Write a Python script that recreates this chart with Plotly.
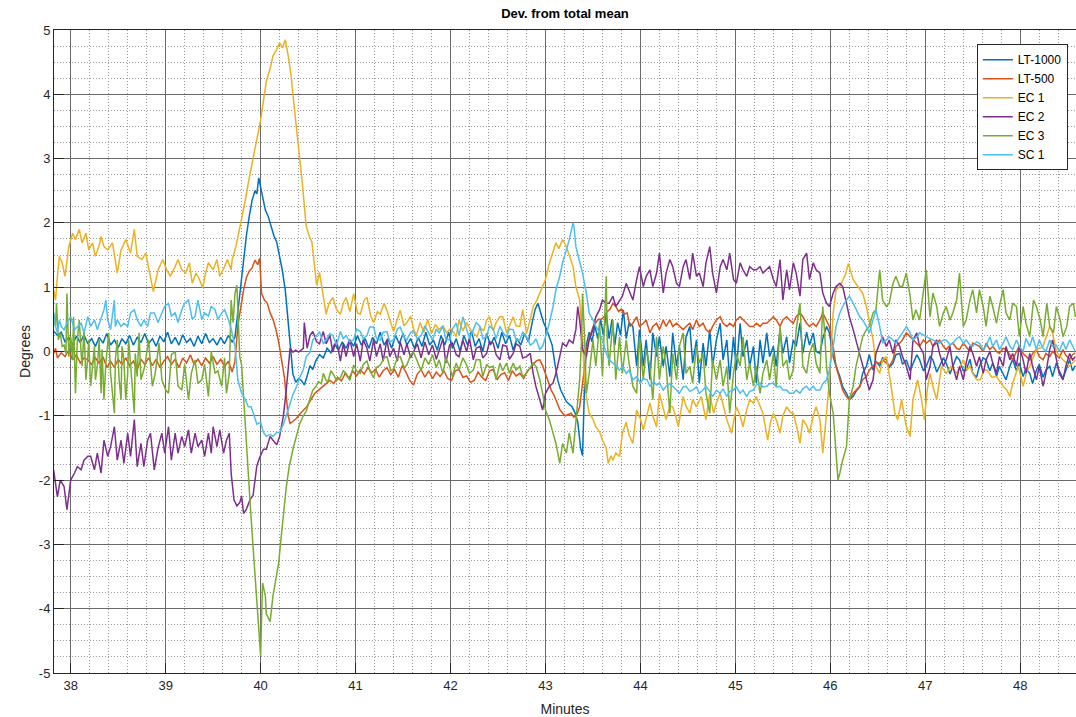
import plotly.graph_objects as go

# ---- data: (minutes, degrees) ----
lt1000 = [(37.82,0.32),(37.86,0.25),(37.90,0.30),(37.94,0.15),(37.98,0.22),(38.02,0.10),(38.06,0.24),(38.10,0.14),(38.14,0.26),(38.18,0.12),(38.22,0.20),(38.26,0.08),(38.30,0.22),(38.34,0.13),(38.38,0.28),(38.42,0.10),(38.46,0.18),(38.50,0.06),(38.54,0.20),(38.58,0.12),(38.62,0.25),(38.66,0.10),(38.70,0.22),(38.74,0.14),(38.78,0.28),(38.82,0.12),(38.86,0.20),(38.90,0.08),(38.94,0.24),(38.98,0.15),(39.02,0.30),(39.06,0.12),(39.10,0.22),(39.14,0.10),(39.18,0.26),(39.22,0.14),(39.26,0.20),(39.30,0.08),(39.34,0.24),(39.38,0.12),(39.42,0.28),(39.46,0.14),(39.50,0.20),(39.54,0.10),(39.58,0.22),(39.62,0.12),(39.66,0.25),(39.70,0.15),(39.73,0.22),
(39.76,0.6),(39.79,1.0),(39.82,1.45),(39.85,1.8),(39.88,2.1),(39.91,2.35),(39.94,2.5),(39.96,2.45),(39.98,2.7),(40.00,2.55),(40.02,2.4),(40.05,2.2),(40.08,2.1),(40.11,1.95),(40.14,1.8),(40.17,1.7),(40.20,1.5),(40.23,1.25),(40.26,0.95),(40.28,0.6),(40.30,0.25),(40.32,-0.1),(40.34,-0.35),(40.37,-0.48),(40.40,-0.42),(40.43,-0.45),(40.46,-0.52),(40.49,-0.38),(40.52,-0.22),(40.55,-0.28),(40.58,-0.15),(40.62,-0.05),(40.66,-0.1),(40.70,0.05),(40.74,-0.02),(40.78,0.12),(40.82,0.02),(40.86,0.15),(40.90,0.05),(40.94,0.18),(40.98,0.08),(41.02,0.25),(41.06,0.1),(41.10,0.2),(41.14,0.05),(41.18,0.22),(41.22,0.12),(41.26,0.3),(41.30,0.1),(41.34,0.2),(41.38,0.05),(41.42,0.25),(41.46,0.12),(41.50,0.28),(41.54,0.1),(41.58,0.2),(41.62,0.05),(41.66,0.22),(41.70,0.08),(41.74,0.3),(41.78,0.1),(41.82,0.18),(41.86,0.02),(41.90,0.25),(41.94,0.1),(41.98,0.3),(42.02,0.05),(42.06,0.2),(42.10,0.0),(42.14,0.25),(42.18,0.1),(42.22,0.32),(42.26,0.08),(42.30,0.2),(42.34,0.0),(42.38,0.28),(42.42,0.1),(42.46,0.22),(42.50,0.05),(42.54,0.3),(42.58,0.12),(42.62,0.25),(42.66,0.02),(42.70,0.2),(42.74,0.1),(42.78,0.28),(42.82,0.15),(42.86,0.45),(42.89,0.65),(42.92,0.75),(42.95,0.6),(42.98,0.45),(43.01,0.35),(43.04,0.22),(43.07,0.1),(43.10,-0.2),(43.13,-0.45),(43.16,-0.6),(43.19,-0.7),(43.22,-0.78),(43.25,-0.82),(43.28,-0.86),(43.31,-0.95),(43.34,-1.1),(43.37,-1.5),(43.39,-1.62),(43.41,-0.6),(43.43,0.1),(43.46,0.3),(43.49,0.15),(43.52,0.4),(43.55,0.2),(43.58,0.5),(43.61,0.25),(43.64,0.6),(43.67,0.2),(43.70,0.5),(43.73,0.1),(43.76,0.45),(43.79,0.25),(43.82,0.65),(43.85,0.2),(43.88,0.45),
(43.92,0.39),(43.96,-0.23),(43.99,0.34),(44.03,-0.23),(44.06,0.18),(44.10,-0.44),(44.13,0.29),(44.17,-0.08),(44.20,0.23),(44.24,-0.23),(44.27,0.08),(44.31,-0.39),(44.34,0.29),(44.38,-0.23),(44.41,0.08),(44.45,-0.44),(44.48,0.23),(44.52,0.39),(44.55,-0.18),(44.59,0.18),(44.62,-0.49),(44.66,0.13),(44.69,-0.23),(44.73,0.34),(44.76,-0.23),(44.80,0.18),(44.84,0.44),(44.87,-0.13),(44.91,0.18),(44.94,-0.44),(44.98,0.23),(45.01,-0.29),(45.05,0.44),(45.08,-0.08),(45.12,0.18),(45.15,-0.23),(45.19,0.08),(45.22,-0.49),(45.26,0.18),(45.29,-0.18),(45.33,0.29),(45.36,-0.08),(45.40,0.08),(45.43,-0.23),(45.47,0.34),(45.50,-0.03),(45.54,0.23),(45.57,-0.18),(45.61,0.18),(45.64,0.08),(45.68,0.44),(45.71,-0.03),(45.75,0.3),(45.78,0.1),(45.82,0.29),(45.85,0.0),(45.89,-0.03),(45.92,0.2),(45.96,0.39),(45.99,0.29),(46.03,-0.08),(46.06,-0.23),(46.10,-0.39),(46.13,-0.55),(46.17,-0.65),(46.20,-0.75),(46.24,-0.70),(46.27,-0.62),(46.31,-0.55),(46.34,-0.34),(46.38,-0.23),(46.41,-0.05),(46.45,-0.29),(46.48,-0.15),(46.52,-0.23),(46.55,-0.1),(46.59,-0.13),(46.62,-0.25),(46.66,-0.18),(46.69,-0.05),(46.73,-0.03),(46.76,-0.2),(46.80,-0.13),(46.84,-0.3),(46.87,-0.18),(46.91,-0.05),(46.94,-0.13),(46.98,-0.3),(47.01,-0.23),(47.05,-0.08),(47.08,-0.13),(47.12,-0.32),(47.15,-0.23),(47.19,-0.1),(47.22,-0.18),(47.26,-0.35),(47.29,-0.23),(47.33,-0.08),(47.36,-0.13),(47.40,-0.3),(47.43,-0.29),(47.47,-0.12),(47.50,-0.34),(47.54,-0.4),(47.57,-0.23),(47.61,-0.1),(47.64,-0.13),(47.68,-0.3),(47.71,-0.18),(47.75,-0.39),(47.78,-0.23),(47.82,-0.34),(47.85,-0.44),(47.89,-0.23),(47.92,-0.12),(47.96,-0.3),(47.99,-0.18),(48.03,-0.39),(48.06,-0.27),(48.10,-0.34),(48.13,-0.5),(48.17,-0.29),(48.20,-0.2),(48.24,-0.4),(48.27,-0.29),(48.31,-0.23),(48.34,-0.39),(48.38,-0.18),(48.41,-0.3),(48.45,-0.42),(48.48,-0.29),(48.52,-0.13),(48.55,-0.3),(48.58,-0.22)]

lt500 = [(37.82,-0.03),(37.84,0.05),(37.86,-0.1),(37.90,-0.02),(37.94,-0.08),(37.98,0.02),(38.02,-0.13),(38.06,-0.05),(38.10,-0.18),(38.14,-0.1),(38.18,-0.13),(38.22,-0.2),(38.26,-0.1),(38.30,-0.18),(38.34,-0.08),(38.38,-0.25),(38.42,-0.15),(38.46,-0.25),(38.50,-0.12),(38.54,-0.2),(38.58,-0.1),(38.62,-0.22),(38.66,-0.15),(38.70,-0.28),(38.74,-0.12),(38.78,-0.2),(38.82,-0.1),(38.86,-0.22),(38.90,-0.12),(38.94,-0.25),(38.98,-0.15),(39.02,-0.08),(39.06,-0.2),(39.10,-0.12),(39.14,-0.25),(39.18,-0.1),(39.22,-0.18),(39.26,-0.05),(39.30,-0.2),(39.34,-0.12),(39.38,-0.22),(39.42,-0.1),(39.46,-0.18),(39.50,-0.08),(39.54,-0.2),(39.58,-0.12),(39.62,-0.24),(39.66,-0.15),(39.70,-0.32),(39.73,-0.15),
(39.76,0.4),(39.79,0.7),(39.82,0.95),(39.85,1.15),(39.88,1.25),(39.91,1.3),(39.94,1.42),(39.97,1.35),(39.99,1.45),(40.01,0.9),(40.04,0.8),(40.07,0.75),(40.10,0.6),(40.13,0.5),(40.16,0.35),(40.19,0.15),(40.22,-0.1),(40.25,-0.4),(40.27,-0.7),(40.29,-1.0),(40.31,-1.12),(40.34,-1.08),(40.37,-1.05),(40.41,-0.98),(40.45,-0.92),(40.49,-0.85),(40.53,-0.75),(40.57,-0.65),(40.61,-0.6),(40.65,-0.55),(40.69,-0.5),(40.73,-0.45),(40.77,-0.5),(40.81,-0.4),(40.85,-0.46),(40.89,-0.34),(40.93,-0.42),(40.97,-0.3),(41.01,-0.38),(41.05,-0.28),(41.09,-0.35),(41.13,-0.25),(41.17,-0.33),(41.21,-0.28),(41.25,-0.4),(41.29,-0.3),(41.33,-0.25),(41.37,-0.36),(41.41,-0.28),(41.45,-0.4),(41.49,-0.22),(41.53,-0.32),(41.57,-0.45),(41.61,-0.52),(41.65,-0.35),(41.69,-0.28),(41.73,-0.4),(41.77,-0.3),(41.81,-0.42),(41.85,-0.32),(41.89,-0.39),(41.93,-0.3),(41.97,-0.42),(42.01,-0.45),(42.05,-0.3),(42.09,-0.28),(42.13,-0.4),(42.17,-0.38),(42.21,-0.48),(42.25,-0.45),(42.29,-0.32),(42.33,-0.4),(42.37,-0.45),(42.41,-0.3),(42.45,-0.28),(42.49,-0.44),(42.53,-0.36),(42.57,-0.33),(42.61,-0.45),(42.65,-0.3),(42.69,-0.38),(42.73,-0.34),(42.77,-0.42),(42.81,-0.3),(42.85,-0.25),(42.88,-0.18),(42.91,-0.14),(42.94,-0.13),(42.97,-0.22),(43.00,-0.34),(43.03,-0.45),(43.06,-0.6),(43.09,-0.68),(43.12,-0.78),(43.15,-0.9),(43.18,-0.96),(43.21,-1.0),(43.24,-0.98),(43.27,-0.96),(43.30,-1.02),(43.33,-0.98),(43.36,-0.86),(43.38,-0.6),(43.41,-0.2),(43.44,0.1),(43.47,0.25),(43.50,0.38),(43.53,0.45),(43.56,0.5),(43.59,0.5),(43.62,0.55),(43.65,0.62),(43.68,0.66),(43.71,0.75),(43.74,0.7),(43.77,0.62),(43.80,0.66),(43.83,0.58),(43.86,0.6),(43.89,0.39),(43.92,0.44),(43.96,0.54),(43.99,0.39),(44.03,0.44),(44.06,0.49),(44.10,0.29),(44.13,0.39),(44.17,0.44),(44.20,0.34),(44.24,0.49),(44.27,0.39),(44.31,0.49),(44.34,0.39),(44.38,0.44),(44.41,0.39),(44.45,0.34),(44.48,0.39),(44.52,0.44),(44.55,0.34),(44.59,0.49),(44.62,0.39),(44.66,0.44),(44.69,0.34),(44.73,0.29),(44.76,0.39),(44.80,0.49),(44.84,0.54),(44.87,0.44),(44.91,0.39),(44.94,0.44),(44.98,0.39),(45.01,0.49),(45.05,0.54),(45.08,0.49),(45.12,0.44),(45.15,0.39),(45.19,0.39),(45.22,0.44),(45.26,0.39),(45.29,0.44),(45.33,0.44),(45.36,0.49),(45.40,0.54),(45.43,0.49),(45.47,0.39),(45.50,0.49),(45.54,0.54),(45.57,0.49),(45.61,0.44),(45.64,0.54),(45.68,0.6),(45.71,0.54),(45.75,0.44),(45.78,0.39),(45.82,0.44),(45.85,0.39),(45.89,0.49),(45.92,0.6),(45.96,0.49),(45.99,0.39),(46.03,0.08),(46.06,-0.23),(46.10,-0.44),(46.13,-0.6),(46.17,-0.7),(46.20,-0.75),(46.24,-0.65),(46.27,-0.6),(46.31,-0.54),(46.34,-0.44),(46.38,-0.39),(46.41,-0.29),(46.45,-0.23),(46.48,-0.18),(46.52,-0.18),(46.55,-0.13),(46.59,-0.18),(46.62,-0.23),(46.66,-0.13),(46.69,0.08),(46.73,0.13),(46.76,0.18),(46.80,0.29),(46.84,0.23),(46.87,0.18),(46.91,0.13),(46.94,0.08),(46.98,0.18),(47.01,0.13),(47.05,0.18),(47.08,0.08),(47.12,0.13),(47.15,0.18),(47.19,0.08),(47.22,0.03),(47.26,0.1),(47.29,0.13),(47.33,0.05),(47.36,0.03),(47.40,0.13),(47.43,0.08),(47.47,0.0),(47.50,0.13),(47.54,0.1),(47.57,0.08),(47.61,0.0),(47.64,0.13),(47.68,0.03),(47.71,0.08),(47.75,0.0),(47.78,-0.03),(47.82,0.05),(47.85,0.03),(47.89,-0.05),(47.92,-0.13),(47.96,0.0),(47.99,0.08),(48.03,-0.03),(48.06,-0.08),(48.10,-0.13),(48.13,-0.03),(48.17,0.03),(48.20,-0.08),(48.24,-0.13),(48.27,-0.03),(48.31,-0.08),(48.34,0.0),(48.38,-0.05),(48.41,-0.1),(48.45,0.03),(48.48,-0.06),(48.52,-0.12),(48.55,-0.05),(48.58,-0.02)]

ec1 = [(37.82,0.96),(37.84,0.8),(37.86,1.17),(37.88,1.48),(37.91,1.38),(37.94,1.17),(37.96,1.4),(37.98,1.63),(38.02,1.84),(38.05,1.74),(38.09,1.9),(38.12,1.69),(38.16,1.84),(38.19,1.58),(38.23,1.69),(38.26,1.48),(38.30,1.65),(38.32,1.79),(38.35,1.63),(38.39,1.58),(38.44,1.69),(38.49,1.22),(38.53,1.58),(38.58,1.74),(38.63,1.53),(38.67,1.9),(38.70,1.48),(38.75,1.43),(38.79,1.53),(38.82,1.32),(38.85,1.06),(38.87,0.93),(38.92,1.27),(38.97,1.43),(39.01,1.27),(39.05,1.17),(39.10,1.32),(39.13,1.43),(39.17,1.27),(39.21,1.22),(39.25,1.38),(39.28,1.06),(39.32,1.22),(39.35,1.14),(39.39,0.99),(39.42,1.22),(39.45,1.38),(39.50,1.27),(39.54,1.43),(39.57,1.17),(39.62,1.32),(39.65,1.43),(39.69,1.27),(39.70,1.43),(39.74,1.63),(39.77,1.84),(39.80,2.05),(39.84,2.36),(39.88,2.7),(39.92,3.0),(39.96,3.3),(40.00,3.6),(40.03,3.9),(40.06,4.2),(40.10,4.4),(40.13,4.6),(40.17,4.7),(40.20,4.8),(40.23,4.72),(40.26,4.85),(40.29,4.6),(40.32,4.3),(40.34,4.0),(40.37,3.6),(40.41,3.1),(40.44,2.6),(40.48,1.95),(40.51,1.8),(40.54,1.7),(40.57,1.3),(40.59,1.03),(40.62,1.23),(40.66,0.85),(40.69,0.58),(40.72,0.75),(40.76,0.84),(40.80,0.65),(40.84,0.58),(40.87,0.75),(40.90,0.84),(40.94,0.62),(40.98,0.9),(41.02,0.6),(41.05,0.58),(41.09,0.8),(41.12,0.84),(41.16,0.55),(41.19,0.45),(41.23,0.62),(41.26,0.58),(41.30,0.75),(41.33,0.64),(41.37,0.45),(41.40,0.31),(41.44,0.5),(41.47,0.64),(41.51,0.4),(41.54,0.45),(41.58,0.55),(41.61,0.35),(41.64,0.25),(41.68,0.45),(41.72,0.3),(41.76,0.5),(41.80,0.28),(41.84,0.42),(41.88,0.34),(41.92,0.4),(41.96,0.29),(42.00,0.36),(42.03,0.3),(42.06,0.23),(42.09,0.49),(42.13,0.32),(42.17,0.45),(42.21,0.34),(42.24,0.29),(42.28,0.23),(42.31,0.38),(42.35,0.32),(42.38,0.49),(42.41,0.54),(42.45,0.32),(42.48,0.45),(42.52,0.54),(42.55,0.54),(42.59,0.29),(42.62,0.39),(42.66,0.54),(42.69,0.4),(42.73,0.39),(42.76,0.65),(42.80,0.28),(42.84,0.5),(42.87,0.7),(42.91,0.8),(42.94,0.91),(42.97,1.0),(43.00,1.12),(43.04,1.37),(43.07,1.5),(43.11,1.69),(43.14,1.6),(43.18,1.74),(43.22,1.63),(43.25,1.48),(43.29,1.32),(43.32,1.01),(43.36,0.8),(43.39,0.18),(43.41,-0.4),(43.43,-0.7),(43.46,-0.96),(43.50,-1.05),(43.53,-1.17),(43.57,-1.25),(43.60,-1.38),(43.64,-1.5),(43.66,-1.74),(43.69,-1.62),(43.71,-1.69),(43.74,-1.58),(43.78,-1.63),(43.81,-1.27),(43.85,-1.1),(43.88,-1.3),(43.92,-1.43),(43.96,-0.91),(44.00,-1.05),(44.03,-1.22),(44.07,-0.95),(44.10,-0.8),(44.13,-1.0),(44.17,-1.17),(44.20,-0.65),(44.24,-0.9),(44.27,-1.06),(44.31,-0.85),(44.34,-0.86),(44.37,-1.0),(44.40,-1.17),(44.45,-0.7),(44.48,-0.85),(44.52,-0.96),(44.55,-0.75),(44.59,-0.86),(44.64,-0.7),(44.69,-1.06),(44.73,-0.65),(44.77,-0.96),(44.80,-0.8),(44.84,-0.65),(44.88,-0.9),(44.91,-1.06),(44.96,-1.27),(45.01,-0.86),(45.05,-1.0),(45.08,-1.17),(45.12,-0.9),(45.15,-0.75),(45.19,-0.8),(45.22,-0.7),(45.26,-0.85),(45.29,-0.96),(45.34,-1.38),(45.37,-1.1),(45.40,-0.96),(45.44,-1.1),(45.47,-1.27),(45.50,-1.0),(45.54,-0.86),(45.58,-0.95),(45.61,-0.96),(45.65,-1.2),(45.68,-1.43),(45.71,-1.06),(45.75,-1.15),(45.78,-1.27),(45.82,-1.0),(45.85,-0.86),(45.89,-1.06),(45.92,-1.58),(45.96,-0.96),(45.99,-0.44),(46.03,0.6),(46.06,0.96),(46.10,1.01),(46.13,1.12),(46.16,1.2),(46.19,1.37),(46.21,1.27),(46.24,1.12),(46.29,1.01),(46.34,0.91),(46.38,0.7),(46.41,0.5),(46.45,0.18),(46.48,-0.23),(46.52,-0.34),(46.55,-0.13),(46.59,-0.08),(46.64,-0.54),(46.68,-0.96),(46.71,-1.06),(46.75,-0.75),(46.80,-1.17),(46.84,-1.32),(46.87,-0.75),(46.92,-0.44),(46.96,-0.75),(46.99,-1.06),(47.02,-0.6),(47.05,-0.34),(47.08,-0.54),(47.12,-0.75),(47.17,-0.23),(47.22,-0.34),(47.27,-0.23),(47.33,-0.34),(47.36,-0.25),(47.40,-0.13),(47.44,-0.29),(47.47,-0.23),(47.50,-0.34),(47.54,-0.44),(47.58,-0.44),(47.62,-0.28),(47.65,-0.29),(47.70,-0.4),(47.75,-0.39),(47.82,-0.54),(47.86,-0.6),(47.89,-0.7),(47.92,-0.49),(47.98,-0.23),(48.03,-0.54),(48.07,-0.3),(48.10,-0.23),(48.17,0.03),(48.24,0.08),(48.28,0.25),(48.31,0.39),(48.34,0.29),(48.38,0.0),(48.45,-0.13),(48.52,-0.23),(48.58,-0.13)]

ec2 = [(37.82,-1.84),(37.84,-2.1),(37.86,-2.26),(37.89,-2.0),(37.93,-2.1),(37.96,-2.46),(38.00,-2.0),(38.04,-1.89),(38.07,-1.79),(38.11,-1.84),(38.14,-1.69),(38.18,-1.63),(38.21,-1.63),(38.25,-1.84),(38.28,-1.58),(38.32,-1.89),(38.35,-1.38),(38.39,-1.63),(38.42,-1.48),(38.46,-1.17),(38.49,-1.69),(38.53,-1.38),(38.56,-1.74),(38.60,-1.27),(38.63,-1.63),(38.67,-1.06),(38.70,-1.79),(38.74,-1.43),(38.77,-1.79),(38.81,-1.38),(38.84,-1.27),(38.88,-1.84),(38.92,-1.5),(38.96,-1.27),(38.99,-1.58),(39.03,-1.17),(39.06,-1.69),(39.10,-1.27),(39.13,-1.58),(39.17,-1.32),(39.20,-1.48),(39.24,-1.22),(39.27,-1.58),(39.31,-1.27),(39.34,-1.48),(39.38,-1.38),(39.41,-1.63),(39.45,-1.27),(39.48,-1.58),(39.50,-1.17),(39.54,-1.48),(39.57,-1.22),(39.61,-1.58),(39.64,-1.38),(39.67,-1.27),(39.69,-1.9),(39.72,-2.31),(39.75,-2.4),(39.78,-2.35),(39.80,-2.25),(39.82,-2.52),(39.85,-2.45),(39.89,-2.3),(39.92,-2.24),(39.96,-1.78),(39.99,-1.65),(40.03,-1.52),(40.06,-1.52),(40.10,-1.32),(40.13,-1.38),(40.17,-1.45),(40.20,-1.32),(40.24,-1.0),(40.27,-0.6),(40.29,-0.27),(40.31,0.05),(40.34,-0.01),(40.37,0.02),(40.40,-0.01),(40.45,0.05),(40.46,0.45),(40.49,0.05),(40.52,0.25),(40.55,0.31),(40.59,0.15),(40.62,0.12),(40.66,0.31),(40.69,0.12),(40.73,0.25),(40.76,-0.01),(40.80,0.18),(40.84,-0.15),(40.87,0.12),(40.90,-0.08),(40.94,0.18),(40.98,-0.08),(41.01,0.12),(41.05,-0.15),(41.08,0.18),(41.12,0.05),(41.15,-0.15),(41.19,0.18),(41.22,-0.08),(41.26,0.12),(41.29,-0.15),(41.33,0.18),(41.36,-0.08),(41.40,0.05),(41.44,-0.15),(41.47,0.15),(41.51,-0.05),(41.54,0.12),(41.58,-0.1),(41.61,-0.01),(41.65,0.12),(41.69,-0.1),(41.73,0.15),(41.77,-0.05),(41.81,0.1),(41.85,-0.12),(41.88,0.03),(41.92,0.2),(41.95,-0.18),(41.99,0.1),(42.02,0.13),(42.06,-0.05),(42.09,-0.08),(42.13,0.18),(42.17,0.0),(42.20,0.2),(42.24,-0.13),(42.27,0.05),(42.31,0.08),(42.34,-0.1),(42.38,-0.03),(42.41,0.15),(42.45,0.13),(42.48,-0.05),(42.52,-0.13),(42.55,0.1),(42.59,0.08),(42.62,-0.12),(42.66,-0.03),(42.69,0.12),(42.73,0.08),(42.76,-0.1),(42.80,-0.08),(42.84,-0.03),(42.87,-0.34),(42.90,-0.55),(42.94,-0.75),(42.97,-0.91),(43.00,-0.65),(43.04,-0.54),(43.08,-0.49),(43.11,-0.34),(43.15,-0.08),(43.18,0.13),(43.22,0.08),(43.25,0.18),(43.29,0.13),(43.32,0.34),(43.34,0.7),(43.36,0.49),(43.39,0.03),(43.43,-0.08),(43.46,0.18),(43.50,0.34),(43.53,0.54),(43.57,0.65),(43.60,0.8),(43.64,0.75),(43.67,0.75),(43.71,0.86),(43.74,0.7),(43.78,0.8),(43.81,0.86),(43.85,1.06),(43.88,0.96),(43.92,0.8),(43.96,1.12),(43.99,1.32),(44.03,1.01),(44.06,1.17),(44.10,1.27),(44.13,1.01),(44.17,1.22),(44.20,1.53),(44.24,0.91),(44.27,1.22),(44.31,1.43),(44.34,1.32),(44.38,1.06),(44.41,1.01),(44.45,1.32),(44.48,1.43),(44.52,1.12),(44.55,1.53),(44.59,1.17),(44.62,1.22),(44.66,1.01),(44.69,1.38),(44.73,1.63),(44.76,1.22),(44.80,0.91),(44.84,1.32),(44.87,1.43),(44.91,1.27),(44.94,1.53),(44.98,1.12),(45.01,1.06),(45.05,1.38),(45.08,1.27),(45.12,1.17),(45.15,1.32),(45.19,1.27),(45.22,1.27),(45.26,1.32),(45.29,1.22),(45.33,1.27),(45.36,1.32),(45.40,1.12),(45.43,1.01),(45.47,1.43),(45.50,0.8),(45.54,1.27),(45.57,0.96),(45.61,1.38),(45.64,1.22),(45.68,0.86),(45.71,1.43),(45.75,1.53),(45.78,1.12),(45.82,1.38),(45.85,1.27),(45.89,1.22),(45.92,0.91),(45.96,0.75),(45.99,0.70),(46.03,0.91),(46.06,1.01),(46.10,1.06),(46.13,1.01),(46.17,0.75),(46.20,0.54),(46.24,0.34),(46.27,0.18),(46.31,-0.03),(46.34,-0.23),(46.38,-0.44),(46.41,-0.6),(46.45,-0.44),(46.48,-0.03),(46.52,0.13),(46.55,0.23),(46.59,0.08),(46.62,0.18),(46.66,-0.03),(46.69,0.18),(46.73,0.08),(46.76,-0.08),(46.80,-0.23),(46.84,-0.44),(46.87,0.18),(46.91,0.29),(46.94,0.08),(46.98,-0.03),(47.01,-0.44),(47.05,-0.23),(47.08,0.08),(47.12,0.18),(47.15,-0.03),(47.19,-0.23),(47.22,-0.13),(47.26,0.08),(47.29,-0.23),(47.33,-0.44),(47.36,-0.23),(47.40,-0.44),(47.43,-0.18),(47.47,0.08),(47.50,-0.03),(47.54,-0.23),(47.57,-0.08),(47.61,-0.34),(47.64,-0.13),(47.68,0.0),(47.71,-0.18),(47.75,-0.34),(47.78,-0.08),(47.82,-0.23),(47.85,0.08),(47.89,-0.13),(47.92,-0.03),(47.96,-0.23),(47.99,0.08),(48.03,-0.13),(48.06,-0.34),(48.10,-0.03),(48.13,-0.23),(48.17,-0.44),(48.20,-0.23),(48.24,-0.54),(48.27,-0.34),(48.31,0.03),(48.34,0.18),(48.38,-0.13),(48.41,-0.34),(48.45,-0.44),(48.48,-0.23),(48.52,-0.03),(48.55,-0.13),(48.58,-0.08)]

ec3 = [(37.82,0.6),(37.84,0.39),(37.85,0.75),(37.87,0.18),(37.89,0.29),(37.91,0.08),(37.93,0.1),(37.95,-0.03),(37.96,0.9),(37.98,-0.08),(38.00,0.23),(38.02,-0.13),(38.03,0.54),(38.05,-0.65),(38.07,0.18),(38.09,0.49),(38.11,-0.03),(38.12,-0.23),(38.14,0.34),(38.16,-0.44),(38.18,-0.08),(38.19,0.18),(38.21,-0.54),(38.23,-0.18),(38.25,0.08),(38.26,-0.44),(38.28,-0.23),(38.30,0.18),(38.32,-0.65),(38.33,0.03),(38.35,-0.75),(38.37,-0.18),(38.39,0.08),(38.40,0.29),(38.42,-0.34),(38.44,-0.65),(38.46,-0.96),(38.47,-0.13),(38.49,0.18),(38.51,-0.44),(38.53,-0.75),(38.54,0.08),(38.56,-0.13),(38.58,-0.75),(38.60,-0.34),(38.61,0.18),(38.63,-0.23),(38.65,-0.70),(38.67,-0.96),(38.68,-0.03),(38.70,-0.39),(38.72,0.29),(38.74,-0.44),(38.78,-0.23),(38.82,0.18),(38.86,-0.54),(38.89,-0.34),(38.93,0.13),(38.96,-0.44),(39.00,-0.6),(39.03,-0.65),(39.06,-0.05),(39.10,0.0),(39.13,-0.54),(39.17,-0.6),(39.20,-0.2),(39.24,-0.75),(39.27,-0.34),(39.31,-0.13),(39.34,-0.5),(39.38,-0.44),(39.41,-0.2),(39.45,-0.7),(39.48,0.0),(39.52,-0.34),(39.55,-0.3),(39.59,-0.54),(39.62,-0.1),(39.64,-0.65),(39.67,-0.34),(39.69,0.8),(39.71,0.45),(39.73,0.9),(39.75,1.03),(39.76,0.6),(39.78,-0.08),(39.80,-0.21),(39.82,-0.73),(39.85,-1.38),(39.89,-2.37),(39.92,-3.03),(39.96,-3.88),(39.99,-4.66),(40.00,-4.73),(40.02,-3.6),(40.05,-3.8),(40.06,-4.08),(40.10,-4.2),(40.13,-3.8),(40.16,-3.55),(40.19,-3.29),(40.22,-2.83),(40.27,-2.11),(40.30,-1.8),(40.34,-1.52),(40.38,-1.3),(40.41,-1.13),(40.45,-1.0),(40.48,-0.93),(40.52,-0.73),(40.55,-0.6),(40.58,-0.55),(40.61,-0.47),(40.64,-0.5),(40.66,-0.34),(40.69,-0.45),(40.71,-0.47),(40.74,-0.3),(40.76,-0.34),(40.80,-0.45),(40.84,-0.41),(40.87,-0.3),(40.90,-0.34),(40.94,-0.45),(40.98,-0.21),(41.01,-0.3),(41.05,-0.34),(41.08,-0.2),(41.12,-0.15),(41.15,-0.3),(41.19,-0.41),(41.22,-0.25),(41.26,-0.21),(41.30,-0.1),(41.33,-0.08),(41.37,-0.3),(41.40,-0.27),(41.44,-0.1),(41.47,-0.08),(41.51,-0.25),(41.54,-0.21),(41.58,-0.05),(41.61,-0.01),(41.65,-0.15),(41.69,-0.3),(41.73,-0.1),(41.77,-0.2),(41.81,-0.05),(41.85,-0.25),(41.88,-0.13),(41.92,-0.34),(41.95,-0.1),(41.99,-0.23),(42.02,-0.39),(42.06,-0.18),(42.09,-0.29),(42.13,-0.1),(42.16,-0.18),(42.20,-0.34),(42.24,-0.29),(42.27,-0.13),(42.31,-0.13),(42.34,-0.39),(42.38,-0.2),(42.41,-0.25),(42.45,-0.23),(42.48,-0.44),(42.52,-0.18),(42.55,-0.3),(42.59,-0.18),(42.62,-0.34),(42.66,-0.18),(42.69,-0.29),(42.73,-0.23),(42.76,-0.39),(42.80,-0.34),(42.84,-0.25),(42.87,-0.18),(42.90,-0.23),(42.94,-0.44),(42.97,-0.65),(43.00,-0.91),(43.04,-1.06),(43.08,-1.27),(43.11,-1.43),(43.15,-1.74),(43.18,-1.43),(43.22,-1.58),(43.25,-1.27),(43.29,-1.58),(43.32,-1.06),(43.36,-0.44),(43.38,0.2),(43.39,0.9),(43.41,0.29),(43.43,-0.65),(43.46,-0.34),(43.50,0.18),(43.53,-0.23),(43.57,0.44),(43.60,-0.39),(43.64,1.17),(43.65,0.18),(43.67,-0.23),(43.71,0.49),(43.74,-0.44),(43.78,0.23),(43.81,-0.34),(43.85,0.18),(43.88,-0.18),(43.92,-0.54),(43.96,-0.65),(43.99,0.23),(44.03,-0.44),(44.06,0.03),(44.10,-0.23),(44.13,-0.75),(44.17,0.23),(44.20,-0.44),(44.24,0.08),(44.27,-0.23),(44.31,-0.96),(44.34,-0.03),(44.38,-0.44),(44.41,0.08),(44.45,0.29),(44.48,-0.34),(44.52,-0.23),(44.55,-0.49),(44.59,0.08),(44.62,-0.18),(44.66,-0.03),(44.69,-0.65),(44.73,-0.96),(44.76,-0.13),(44.80,-0.44),(44.84,-0.13),(44.87,-0.54),(44.91,-0.23),(44.94,-0.96),(44.98,-0.34),(45.01,-0.03),(45.05,-0.23),(45.08,0.23),(45.12,-0.44),(45.15,-0.18),(45.19,-0.54),(45.22,-0.23),(45.26,-0.65),(45.29,-0.34),(45.33,-0.13),(45.36,-0.44),(45.40,-0.03),(45.43,-0.54),(45.47,0.39),(45.50,-0.23),(45.54,-0.13),(45.57,-0.44),(45.61,-0.29),(45.64,0.34),(45.68,0.75),(45.71,-0.23),(45.75,-0.34),(45.78,-0.03),(45.82,0.13),(45.85,-0.18),(45.89,-0.34),(45.92,0.7),(45.94,0.29),(45.96,-0.23),(45.99,-0.65),(46.03,-0.96),(46.06,-1.58),(46.08,-2.0),(46.10,-1.89),(46.13,-1.69),(46.17,-1.48),(46.20,-0.75),(46.24,-0.54),(46.27,-0.23),(46.31,0.03),(46.34,0.23),(46.38,0.34),(46.41,0.39),(46.45,0.6),(46.48,0.65),(46.52,1.27),(46.55,0.8),(46.59,0.7),(46.62,0.75),(46.66,1.06),(46.69,1.17),(46.73,1.01),(46.76,1.01),(46.80,1.22),(46.84,0.86),(46.87,0.49),(46.90,0.65),(46.94,0.49),(46.97,0.86),(47.01,1.27),(47.05,0.54),(47.08,0.91),(47.12,0.7),(47.15,0.39),(47.19,0.6),(47.22,0.70),(47.26,0.49),(47.29,0.6),(47.33,0.8),(47.36,1.22),(47.40,0.39),(47.43,0.49),(47.47,0.8),(47.50,0.96),(47.54,0.6),(47.57,0.96),(47.61,0.70),(47.64,0.39),(47.68,0.86),(47.71,0.7),(47.75,0.44),(47.78,0.7),(47.82,0.96),(47.85,0.6),(47.89,0.49),(47.92,0.75),(47.96,0.7),(47.99,0.23),(48.03,0.7),(48.06,0.44),(48.10,0.23),(48.14,0.8),(48.17,0.7),(48.21,0.49),(48.24,0.23),(48.28,0.75),(48.31,0.39),(48.35,0.29),(48.38,0.7),(48.42,0.49),(48.45,0.23),(48.49,0.39),(48.52,0.7),(48.56,0.75),(48.58,0.54)]

sc1 = [(37.82,0.6),(37.84,0.39),(37.86,0.29),(37.88,0.49),(37.90,0.39),(37.93,0.34),(37.96,0.44),(38.00,0.54),(38.04,0.34),(38.07,0.39),(38.11,0.44),(38.14,0.29),(38.18,0.54),(38.21,0.39),(38.25,0.49),(38.28,0.34),(38.32,0.54),(38.35,0.65),(38.37,0.8),(38.39,0.49),(38.42,0.34),(38.46,0.8),(38.47,0.39),(38.49,0.49),(38.53,0.39),(38.56,0.44),(38.60,0.39),(38.63,0.6),(38.67,0.65),(38.70,0.49),(38.74,0.39),(38.77,0.49),(38.81,0.39),(38.84,0.6),(38.88,0.6),(38.92,0.45),(38.96,0.6),(38.99,0.7),(39.03,0.75),(39.06,0.55),(39.10,0.6),(39.13,0.45),(39.17,0.65),(39.20,0.75),(39.24,0.8),(39.28,0.5),(39.31,0.55),(39.34,0.8),(39.38,0.5),(39.41,0.6),(39.45,0.55),(39.48,0.7),(39.52,0.65),(39.55,0.5),(39.59,0.6),(39.62,0.65),(39.66,0.5),(39.69,0.35),(39.73,0.08),(39.76,-0.44),(39.80,-0.65),(39.84,-0.75),(39.87,-0.86),(39.90,-0.86),(39.93,-0.99),(39.96,-1.13),(40.00,-1.1),(40.03,-1.26),(40.06,-1.32),(40.10,-1.29),(40.13,-1.32),(40.17,-1.26),(40.20,-1.26),(40.24,-1.13),(40.27,-1.0),(40.31,-0.8),(40.34,-0.67),(40.38,-0.54),(40.41,-0.41),(40.45,-0.28),(40.48,-0.08),(40.52,-0.01),(40.55,0.18),(40.59,0.25),(40.62,0.31),(40.66,0.12),(40.69,0.18),(40.73,0.28),(40.76,0.25),(40.80,0.1),(40.84,0.31),(40.87,0.2),(40.90,0.25),(40.94,0.15),(40.98,0.18),(41.01,0.35),(41.05,0.31),(41.08,0.2),(41.12,0.25),(41.15,0.38),(41.19,0.38),(41.22,0.2),(41.26,0.18),(41.29,0.3),(41.33,0.31),(41.36,0.15),(41.40,0.18),(41.44,0.35),(41.47,0.38),(41.51,0.22),(41.54,0.18),(41.58,0.3),(41.61,0.31),(41.65,0.2),(41.69,0.25),(41.73,0.4),(41.77,0.3),(41.81,0.18),(41.85,0.35),(41.88,0.29),(41.92,0.39),(41.95,0.2),(41.99,0.18),(42.02,0.35),(42.06,0.44),(42.09,0.25),(42.13,0.54),(42.17,0.34),(42.20,0.2),(42.24,0.34),(42.27,0.45),(42.31,0.39),(42.34,0.2),(42.38,0.23),(42.41,0.4),(42.45,0.34),(42.48,0.2),(42.52,0.39),(42.55,0.3),(42.59,0.23),(42.62,0.35),(42.66,0.34),(42.69,0.18),(42.73,0.18),(42.76,0.3),(42.80,0.23),(42.84,0.1),(42.87,0.13),(42.90,0.2),(42.94,0.03),(42.97,0.08),(43.00,0.23),(43.04,0.44),(43.08,0.7),(43.11,0.96),(43.15,1.17),(43.18,1.38),(43.22,1.58),(43.25,1.74),(43.29,2.0),(43.30,1.95),(43.32,1.63),(43.36,1.38),(43.39,1.22),(43.43,0.91),(43.46,0.6),(43.50,0.49),(43.53,0.39),(43.57,0.29),(43.60,0.18),(43.64,-0.03),(43.67,-0.13),(43.71,-0.18),(43.74,-0.23),(43.78,-0.29),(43.81,-0.23),(43.85,-0.34),(43.88,-0.29),(43.92,-0.44),(43.96,-0.39),(44.00,-0.49),(44.03,-0.42),(44.07,-0.44),(44.10,-0.54),(44.14,-0.47),(44.17,-0.52),(44.20,-0.49),(44.24,-0.6),(44.27,-0.54),(44.31,-0.5),(44.34,-0.54),(44.38,-0.6),(44.41,-0.65),(44.45,-0.55),(44.48,-0.54),(44.52,-0.62),(44.55,-0.6),(44.59,-0.55),(44.62,-0.65),(44.66,-0.6),(44.69,-0.54),(44.73,-0.62),(44.76,-0.7),(44.80,-0.6),(44.84,-0.65),(44.87,-0.58),(44.91,-0.7),(44.94,-0.62),(44.98,-0.6),(45.01,-0.55),(45.05,-0.65),(45.08,-0.6),(45.12,-0.7),(45.15,-0.62),(45.19,-0.6),(45.22,-0.52),(45.26,-0.49),(45.29,-0.55),(45.33,-0.54),(45.36,-0.5),(45.40,-0.49),(45.43,-0.55),(45.47,-0.54),(45.50,-0.6),(45.54,-0.6),(45.57,-0.65),(45.61,-0.65),(45.64,-0.6),(45.68,-0.65),(45.71,-0.58),(45.75,-0.54),(45.78,-0.6),(45.82,-0.54),(45.85,-0.6),(45.89,-0.6),(45.92,-0.5),(45.96,-0.44),(45.99,-0.29),(46.03,0.08),(46.06,0.39),(46.10,0.6),(46.13,0.7),(46.17,0.8),(46.20,0.86),(46.24,0.75),(46.27,0.65),(46.31,0.54),(46.34,0.49),(46.38,0.39),(46.41,0.29),(46.45,0.49),(46.48,0.65),(46.52,0.39),(46.55,0.13),(46.59,0.18),(46.62,0.23),(46.66,0.18),(46.69,0.13),(46.73,0.23),(46.76,0.29),(46.80,0.39),(46.84,0.29),(46.87,0.18),(46.91,0.23),(46.94,0.29),(46.98,0.25),(47.01,0.23),(47.05,0.2),(47.08,0.18),(47.12,0.15),(47.15,0.13),(47.19,0.18),(47.22,0.18),(47.26,0.1),(47.29,0.13),(47.33,0.2),(47.36,0.23),(47.40,0.13),(47.43,0.18),(47.47,0.1),(47.50,0.08),(47.54,0.15),(47.57,0.13),(47.61,0.03),(47.64,0.08),(47.68,0.23),(47.71,0.08),(47.75,0.18),(47.78,0.03),(47.82,0.13),(47.85,0.23),(47.89,0.08),(47.92,0.03),(47.96,0.18),(47.99,0.08),(48.03,0.0),(48.06,0.2),(48.10,0.08),(48.13,0.23),(48.17,0.03),(48.20,0.18),(48.24,0.05),(48.27,0.0),(48.31,0.18),(48.34,0.08),(48.38,0.1),(48.41,0.0),(48.45,0.15),(48.48,0.03),(48.52,0.18),(48.55,0.08),(48.58,0.0)]

series_names = ["LT-1000", "LT-500", "EC 1", "EC 2", "EC 3", "SC 1"]
series_data = [lt1000, lt500, ec1, ec2, ec3, sc1]
series_colors = ["#0072BD", "#D95319", "#EDB120", "#7E2F8E", "#77AC30", "#4DBEEE"]

x_ticks = [38, 39, 40, 41, 42, 43, 44, 45, 46, 47, 48]
y_ticks = [-5, -4, -3, -2, -1, 0, 1, 2, 3, 4, 5]
y_tick_labels = ["-5", "-4", "-3", "-2", "-1", "0", "1", "2", "3", "4", "5"]

FONT = "Liberation Sans, Arial, Helvetica, sans-serif"

fig = go.Figure()
for name, data, color in zip(series_names, series_data, series_colors):
    xs = [p[0] for p in data]
    ys = [p[1] for p in data]
    fig.add_trace(go.Scatter(x=xs, y=ys, mode="lines", name=name,
                             line=dict(color=color, width=1.5)))

axis_common = dict(
    showline=True, linecolor="#262626", linewidth=1, mirror=True,
    ticks="inside", ticklen=10, tickcolor="#262626", tickwidth=1,
    showgrid=True, gridcolor="#6a6a6a", gridwidth=1,
    zeroline=False, automargin=False,
    tickfont=dict(family=FONT, size=13, color="#262626"),
)

fig.update_xaxes(
    range=[37.824, 48.587], tickvals=x_ticks,
    minor=dict(dtick=0.2, tick0=38, showgrid=True, gridcolor="#9a9a9a",
               griddash="1px,2px", gridwidth=1, ticks=""),
    title=dict(text="Minutes", font=dict(family=FONT, size=14, color="#262626"), standoff=13),
    **axis_common,
)
fig.update_yaxes(
    range=[-5, 5], tickvals=y_ticks, ticktext=y_tick_labels,
    minor=dict(dtick=0.25, tick0=0, showgrid=True, gridcolor="#9a9a9a",
               griddash="1px,2px", gridwidth=1, ticks=""),
    title=dict(text="Degrees", font=dict(family=FONT, size=14, color="#262626"), standoff=4),
    **axis_common,
)

fig.update_layout(
    width=1076, height=717,
    margin=dict(l=54, r=0, t=30, b=44, autoexpand=False),
    paper_bgcolor="white", plot_bgcolor="white",
    title=dict(text="<b>Dev. from total mean</b>", x=0.5, xref="paper",
               y=1 - 13 / 717, yanchor="middle", automargin=False,
               font=dict(family=FONT, size=13, color="#000000")),
    showlegend=True,
    legend=dict(x=0.992, y=0.978, xanchor="right", yanchor="top",
                bgcolor="white", bordercolor="#262626", borderwidth=1,
                font=dict(family=FONT, size=12, color="#000000"),
                tracegroupgap=0),
    font=dict(family=FONT),
)

fig.write_html("out.html", config={"displayModeBar": False},
               post_script="document.body.style.margin='0';document.body.style.overflow='hidden';")
